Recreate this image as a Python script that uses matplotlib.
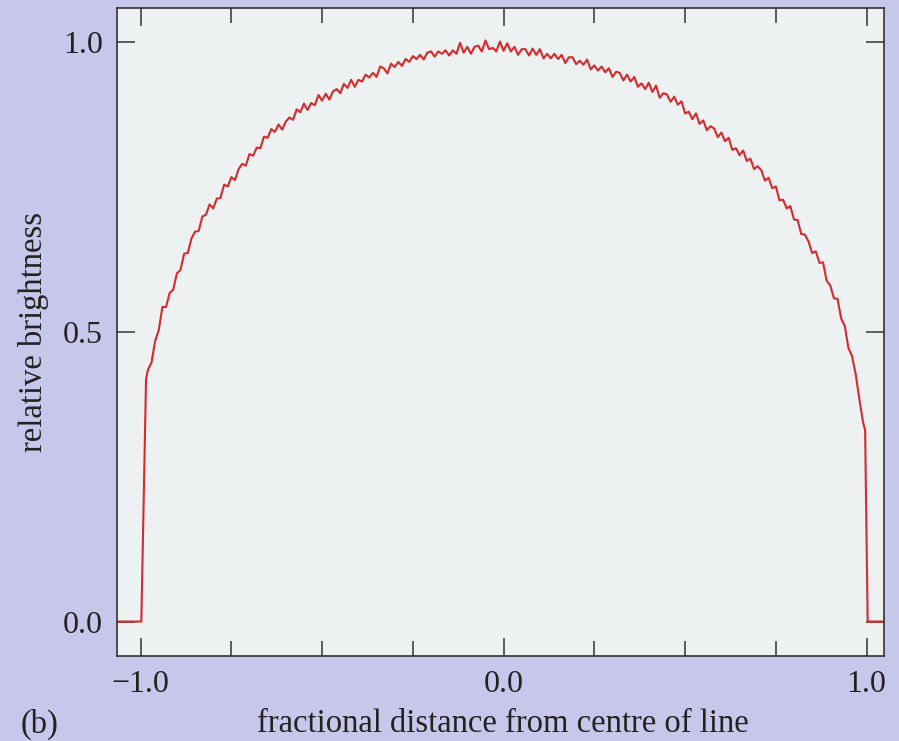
import matplotlib
matplotlib.use("Agg")
import matplotlib.pyplot as plt
import numpy as np

profile = [
    0.434, 0.447, 0.484, 0.503, 0.543, 0.543, 0.567, 0.573, 0.601, 0.607,
    0.635, 0.636, 0.661, 0.673, 0.674, 0.699, 0.702, 0.720, 0.713, 0.730,
    0.731, 0.754, 0.751, 0.767, 0.762, 0.781, 0.790, 0.787, 0.807, 0.804,
    0.818, 0.817, 0.837, 0.835, 0.850, 0.845, 0.858, 0.849, 0.863, 0.870,
    0.866, 0.884, 0.879, 0.894, 0.883, 0.895, 0.891, 0.909, 0.899, 0.911,
    0.901, 0.915, 0.919, 0.912, 0.928, 0.921, 0.935, 0.923, 0.935, 0.932,
    0.944, 0.939, 0.947, 0.940, 0.958, 0.955, 0.946, 0.963, 0.957, 0.966,
    0.959, 0.971, 0.966, 0.976, 0.971, 0.978, 0.970, 0.982, 0.984, 0.975,
    0.984, 0.980, 0.986, 0.977, 0.986, 0.980, 0.999, 0.982, 0.992, 0.980,
    0.992, 0.994, 0.984, 1.003, 0.988, 0.990, 0.984, 1.001, 0.985, 0.998,
    0.984, 0.992, 0.978, 0.988, 0.988, 0.977, 0.989, 0.978, 0.988, 0.972,
    0.980, 0.972, 0.980, 0.971, 0.978, 0.964, 0.974, 0.974, 0.962, 0.968,
    0.961, 0.970, 0.953, 0.960, 0.951, 0.958, 0.948, 0.955, 0.940, 0.949,
    0.947, 0.934, 0.944, 0.932, 0.940, 0.923, 0.929, 0.919, 0.930, 0.914,
    0.925, 0.904, 0.912, 0.910, 0.897, 0.906, 0.892, 0.898, 0.877, 0.880,
    0.867, 0.877, 0.859, 0.865, 0.848, 0.855, 0.851, 0.836, 0.844, 0.829,
    0.835, 0.814, 0.817, 0.805, 0.813, 0.795, 0.799, 0.781, 0.786, 0.779,
    0.761, 0.766, 0.748, 0.751, 0.727, 0.728, 0.713, 0.717, 0.694, 0.693,
    0.669, 0.668, 0.656, 0.636, 0.639, 0.619, 0.620, 0.588, 0.580, 0.558,
    0.557, 0.523, 0.510, 0.472, 0.458, 0.427, 0.384,
]

# the flat dark floor and the sharp edges of the line
left_edge_x = [-1.08, -0.998, -0.985]
left_edge_y = [0.0, 0.0, 0.418]
right_edge_x = [0.99, 0.996, 1.003, 1.08]
right_edge_y = [0.345, 0.330, 0.0, 0.0]

x_major = [-1.0, 0.0, 1.0]
x_labels = ["\u22121.0", "0.0", "1.0"]
x_minor = [-0.75, -0.5, -0.25, 0.25, 0.5, 0.75]
y_major = [0.0, 0.5, 1.0]
y_labels = ["0.0", "0.5", "1.0"]

xs = np.linspace(-0.98, 0.98, len(profile))
x_all = np.concatenate([left_edge_x, xs, right_edge_x])
y_all = np.concatenate([left_edge_y, profile, right_edge_y])

plt.rcParams['font.family'] = ['Liberation Serif', 'DejaVu Serif']

fig = plt.figure(figsize=(8.99, 7.41), dpi=100)
fig.patch.set_facecolor('#c7c7ec')

W, H = 899.0, 741.0
ax = fig.add_axes([117 / W, 1 - 656 / H, (884 - 117) / W, (656 - 8) / H])
ax.set_facecolor('#eef1f2')

ax.plot(x_all, y_all, color='#d62a2c', linewidth=1.5)

ax.set_xlim(-1.065, 1.048)
ax.set_ylim(-0.0595, 1.059)

ax.set_xticks(x_major)
ax.set_xticklabels(x_labels)
ax.set_xticks(x_minor, minor=True)
ax.set_yticks(y_major)
ax.set_yticklabels(y_labels)

ax.tick_params(which='both', direction='in', top=True, right=True,
               colors='#333333', labelcolor='#222222', labelsize=23, width=1.1)
ax.tick_params(which='major', length=13, pad=10)
ax.tick_params(which='minor', length=11)
for s in ax.spines.values():
    s.set_color('#333333')
    s.set_linewidth(1.2)

ax.set_ylabel('relative brightness', fontsize=23.5, color='#222222', labelpad=10)
fig.text(503 / W, 1 - 724 / H, 'fractional distance from centre of line',
         fontsize=23.5, color='#222222', ha='center', va='center')
fig.text(40 / W, 1 - 724 / H, '(b)', fontsize=23.5, color='#222222',
         ha='center', va='center')

fig.savefig('out.png', dpi=100, facecolor=fig.get_facecolor())
